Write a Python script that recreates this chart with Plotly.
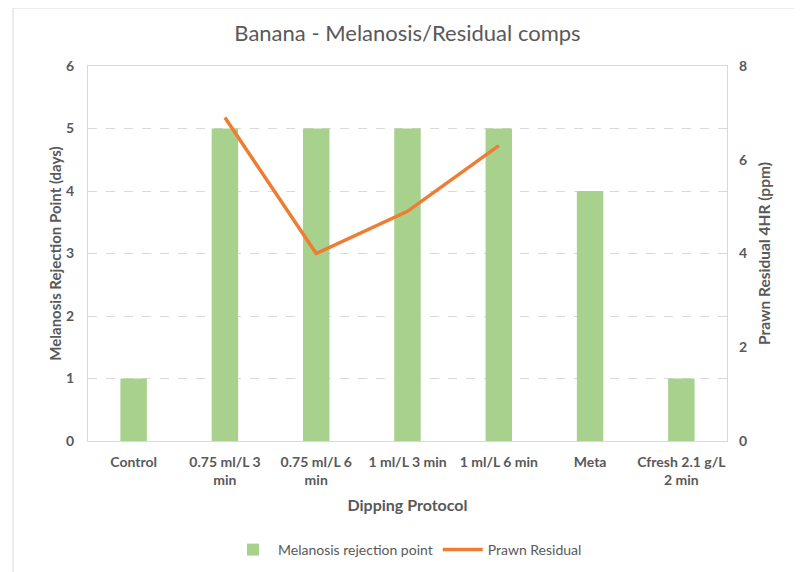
import plotly.graph_objects as go

categories = ["Control", "0.75 ml/L 3<br>min", "0.75 ml/L 6<br>min", "1 ml/L 3 min",
              "1 ml/L 6 min", "Meta", "Cfresh 2.1 g/L<br>2 min"]
melanosis = [1, 5, 5, 5, 5, 4, 1]
residual = [None, 6.9, 4.0, 4.9, 6.3, None, None]

FONT = "Lato, Liberation Sans, sans-serif"
GRAY = "#595959"

# page body adds an 8px offset; figure laid out so plot area lands at x 88-727, y 66-441
W, H = 794, 564
L, R, T, B = 80, 75, 58, 131
PW, PH = W - L - R, H - T - B

fig = go.Figure()
fig.add_trace(go.Bar(x=categories, y=melanosis, name="Melanosis rejection point",
                     marker=dict(color="#A9D18E", line=dict(width=0)), yaxis="y"))
fig.add_trace(go.Scatter(x=categories, y=residual, name="Prawn Residual", mode="lines",
                         line=dict(color="#ED7D31", width=3.5), yaxis="y2",
                         connectgaps=False))

fig.update_layout(
    width=W, height=H,
    margin=dict(l=L, r=R, t=T, b=B),
    paper_bgcolor="white", plot_bgcolor="white",
    font=dict(family=FONT, color=GRAY, size=14),
    title=dict(text="Banana - Melanosis/Residual comps", x=0.5, xref="paper",
               y=1 - 25/H, yanchor="middle",
               font=dict(size=22, color=GRAY, family=FONT)),
    bargap=0.71,
    showlegend=True,
    legend=dict(orientation="h", x=0.5, xanchor="center", xref="paper",
                yref="container", y=1 - 542/H, yanchor="middle",
                font=dict(size=14, color=GRAY), itemwidth=40, tracegroupgap=0),
    xaxis=dict(showline=True, linecolor="#D9D9D9", mirror=True, ticks="",
               tickfont=dict(size=14, color=GRAY, family=FONT), tickangle=0,
               tickprefix="<b>", ticksuffix="</b>", ticklabelstandoff=8,
               automargin=False,
               title=dict(text="<b>Dipping Protocol</b>", font=dict(size=16, color=GRAY),
                          standoff=12)),
    yaxis=dict(range=[0, 6], dtick=1, showgrid=True, gridcolor="#D9D9D9", griddash="dash",
               showline=True, linecolor="#D9D9D9", mirror=True, zeroline=False,
               tickfont=dict(size=14, color=GRAY), ticklabelstandoff=10,
               tickprefix="<b>", ticksuffix="</b>", automargin=False,
               title=dict(text="<b>Melanosis Rejection Point (days)</b>",
                          font=dict(size=15, color=GRAY), standoff=0)),
    yaxis2=dict(range=[0, 8], dtick=2, overlaying="y", side="right", showgrid=False,
                zeroline=False, tickfont=dict(size=14, color=GRAY), ticklabelstandoff=11,
                tickprefix="<b>", ticksuffix="</b>", automargin=False,
                title=dict(text="<b>Prawn Residual 4HR (ppm)</b>",
                           font=dict(size=15.5, color=GRAY), standoff=13)),
    shapes=[dict(type="rect", xref="paper", yref="paper",
                 x0=(5 - L) / PW, x1=(789 - L) / PW, y0=-0.5, y1=(PH + T) / PH,
                 line=dict(color="#D9D9D9", width=1), layer="below")],
)

fig.write_html("out.html")
